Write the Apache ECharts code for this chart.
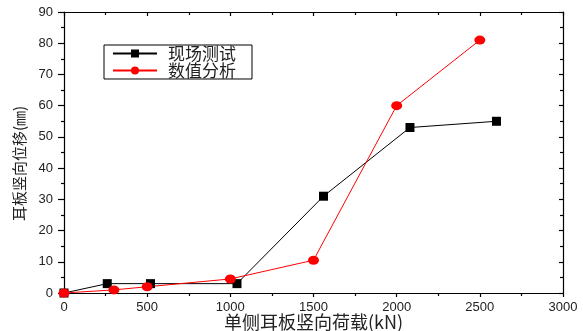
<!DOCTYPE html>
<html><head><meta charset="utf-8">
<script src="https://cdn.jsdelivr.net/npm/echarts@6/dist/echarts.min.js"></script>
<style>html,body{margin:0;padding:0;background:#fff}#c{width:583px;height:331px}</style>
</head><body><div id="c"></div>
<script>
const fieldLoads = [0, 260, 520, 1040, 1560, 2080, 2600];
const fieldDisp = [0, 3, 3, 3, 31, 53, 55];
const simLoads = [0, 300, 500, 1000, 1500, 2000, 2500];
const simDisp = [0, 1, 2, 4.5, 10.5, 60, 81];
const seriesNames = ['现场测试', '数值分析'];
const xName = '单侧耳板竖向荷载(kN)';
const yName = '耳板竖向位移(㎜)';

const chart = echarts.init(document.getElementById('c'));
const tickFont = {fontFamily: 'Liberation Sans, Arial, sans-serif', fontSize: 13, color: '#222'};
const lineStyle = {color: '#000', width: 1.2};
chart.setOption({
  animation: false,
  grid: {left: 64, right: 20, top: 12, bottom: 38, containLabel: false, outerBoundsMode: 'none'},
  legend: {
    orient: 'vertical', left: 104, top: 45,
    data: seriesNames,
    borderColor: '#000', borderWidth: 1, padding: [0, 16, 0, 8],
    itemWidth: 44, itemHeight: 10, itemGap: 0,
    textStyle: {fontFamily: 'Noto Sans CJK SC', fontSize: 17, lineHeight: 16, color: '#222', padding: [0, 0, 0, 6]}
  },
  xAxis: [{
    type: 'value', min: 0, max: 3000, interval: 500,
    axisLine: {onZero: false, lineStyle: lineStyle},
    axisTick: {inside: false, length: 4, lineStyle: lineStyle},
    minorTick: {show: true, splitNumber: 2, length: 3, lineStyle: lineStyle},
    splitLine: {show: false},
    axisLabel: Object.assign({margin: 8, formatter: v => String(v)}, tickFont),
    name: xName, nameLocation: 'middle', nameGap: 20, nameMoveOverlap: false,
    nameTextStyle: {fontFamily: 'Noto Sans CJK SC', fontSize: 18, color: '#222'}
  }, {
    type: 'value', position: 'top', min: 0, max: 3000, interval: 500,
    axisLine: {show: true, onZero: false, lineStyle: lineStyle},
    axisTick: {inside: true, length: 4, lineStyle: lineStyle},
    minorTick: {show: true, splitNumber: 2, length: 3, lineStyle: lineStyle},
    splitLine: {show: false}, axisLabel: {show: false}
  }],
  yAxis: [{
    type: 'value', min: 0, max: 90, interval: 10,
    axisLine: {show: true, onZero: false, lineStyle: lineStyle},
    axisTick: {show: true, inside: false, length: 6, lineStyle: lineStyle},
    minorTick: {show: true, splitNumber: 2, length: 3, lineStyle: lineStyle},
    splitLine: {show: false},
    axisLabel: Object.assign({margin: 11}, tickFont),
    name: yName, nameLocation: 'middle', nameGap: 37, nameMoveOverlap: false,
    nameTextStyle: {fontFamily: 'Noto Sans CJK SC', fontSize: 15, color: '#222', padding: [0, 22, 0, 0]}
  }, {
    type: 'value', position: 'right', min: 0, max: 90, interval: 10,
    axisLine: {show: true, onZero: false, lineStyle: lineStyle},
    axisTick: {show: true, inside: true, length: 4, lineStyle: lineStyle},
    minorTick: {show: true, splitNumber: 2, length: 3, lineStyle: lineStyle},
    splitLine: {show: false}, axisLabel: {show: false}
  }],
  series: [{
    name: seriesNames[0], type: 'line',
    data: fieldLoads.map((x, i) => [x, fieldDisp[i]]),
    symbol: 'rect', symbolSize: 9, showAllSymbol: true,
    itemStyle: {color: '#000'}, lineStyle: {color: '#000', width: 1}
  }, {
    name: seriesNames[1], type: 'line',
    data: simLoads.map((x, i) => [x, simDisp[i]]),
    symbol: 'circle', symbolSize: [11, 9], showAllSymbol: true,
    itemStyle: {color: '#ff0000'}, lineStyle: {color: '#ff0000', width: 1}
  }]
});
</script></body></html>
